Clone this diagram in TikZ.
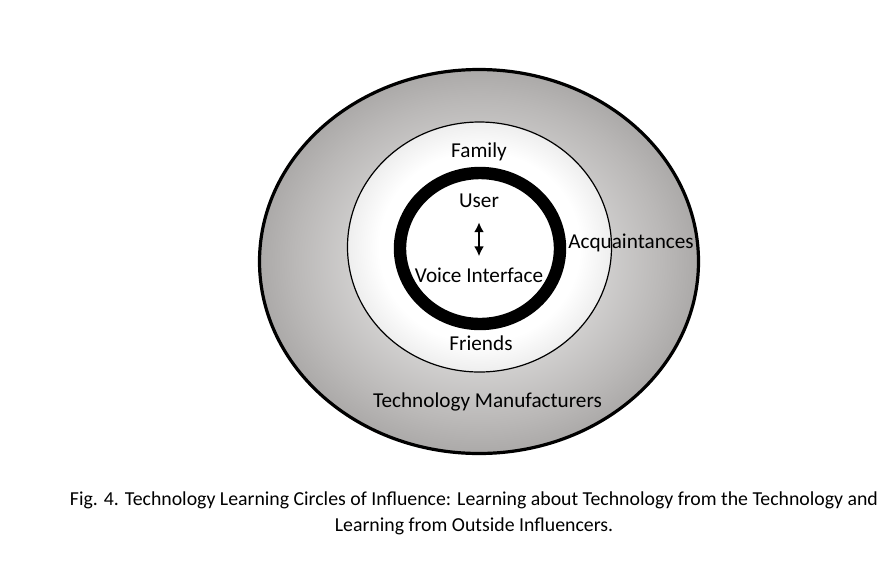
\documentclass[tikz,border=0pt]{standalone}
\usepackage{fontspec}
\setmainfont{Carlito}
\usepackage{xcolor}
\usetikzlibrary{shapes.geometric,arrows.meta}

\definecolor{outergray}{HTML}{BAB8B7}
\definecolor{rimgray}{HTML}{858382}
\definecolor{midgray}{HTML}{D0D0D0}
\pgfdeclareradialshading{outerfade}{\pgfpoint{0bp}{0bp}}{color(0bp)=(white); color(21bp)=(outergray); color(35.4bp)=(rimgray); color(50bp)=(rimgray)}
\pgfdeclareradialshading{midfade}{\pgfpoint{0bp}{0bp}}{color(0bp)=(white); color(19bp)=(white); color(35.4bp)=(midgray); color(50bp)=(midgray)}

\begin{document}
\begin{tikzpicture}[x=0.5pt, y=-0.5pt,
    ring/.style={ellipse, inner sep=0pt},
    lbl/.style={anchor=base, font=\fontsize{10.6}{12}\selectfont}]
    \useasboundingbox (0,0) rectangle (894,580);
    % circles of influence, outermost first
    \node[ring, draw, line width=1.6pt, shade, shading=outerfade, minimum width=219.5pt, minimum height=192pt] (outer) at (479,261.5) {};
    \node[ring, draw, line width=0.6pt, shade, shading=midfade, minimum width=132pt, minimum height=125pt] (middle) at (479.5,247) {};
    \node[ring, draw, line width=6.2pt, fill=white, minimum width=80pt, minimum height=75.5pt] (inner) at (480,248.5) {};
    % labels
    \node[lbl] (family) at (479,157) {Family};
    \node[lbl] (user) at (479,207) {User};
    \node[lbl] (voice) at (479,282) {Voice Interface};
    \node[lbl] (friends) at (481,350) {Friends};
    \node[lbl] (acq) at (631,248) {Acquaintances};
    \node[lbl] (manuf) at (487.5,407) {Technology Manufacturers};
    \path[{Latex[width=5pt,length=5pt]}-{Latex[width=5pt,length=5pt]}, line width=1.3pt, shorten <=4pt, shorten >=2pt] (user) edge (voice);
    % caption
    \node[font=\fontsize{9.9}{13}\selectfont, align=center] (caption) at (474,513) {Fig. 4. Technology Learning Circles of Influence: Learning about Technology from the Technology and\\ Learning from Outside Influencers.};
\end{tikzpicture}
\end{document}
